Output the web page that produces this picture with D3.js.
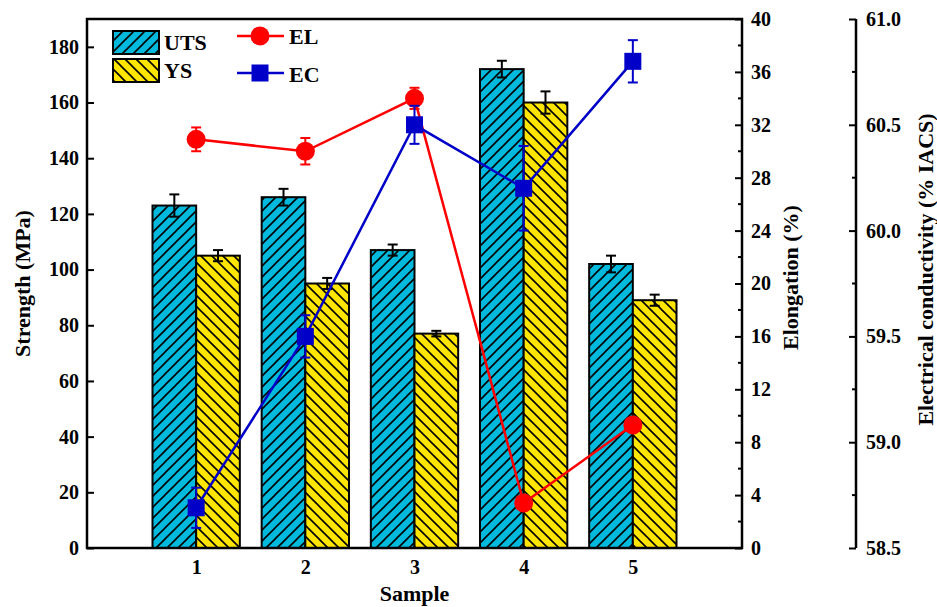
<!DOCTYPE html>
<html>
<head>
<meta charset="utf-8">
<script src="https://cdn.jsdelivr.net/npm/d3@7/dist/d3.min.js"></script>
<style>
  body { margin: 0; background: #fff; }
  svg text { font-family: 'Liberation Serif', 'Times New Roman', Times, Tinos, 'DejaVu Serif', serif !important; font-weight: bold; }
</style>
</head>
<body>
<div id="chart"></div>
<script>
// data
const samples = [1, 2, 3, 4, 5];
const uts = [123, 126, 107, 172, 102];
const utsErr = [4, 3, 2, 3, 3];
const ys = [105, 95, 77, 160, 89];
const ysErr = [2, 2, 1, 4, 2];
const el = [30.9, 30.0, 34.0, 3.4, 9.3];
const elErr = [0.9, 1.0, 0.8, 0, 0];
const ec = [58.69, 59.5, 60.5, 60.2, 60.8];
const ecErr = [0.095, 0.1, 0.09, 0.2, 0.1];

const strengthTicks = [0, 20, 40, 60, 80, 100, 120, 140, 160, 180];
const elTicks = [0, 4, 8, 12, 16, 20, 24, 28, 32, 36, 40];
const ecTicks = [58.5, 59.0, 59.5, 60.0, 60.5, 61.0];

const W = 937, H = 607;
const margin = { top: 19, right: 195, bottom: 59, left: 87 };
const pLeft = margin.left, pRight = W - margin.right, pTop = margin.top, pBottom = H - margin.bottom;
const ecAxisX = 856;
const serif = "'Liberation Serif', 'Times New Roman', Times, Tinos, 'DejaVu Serif', serif";

const svg = d3.select('#chart').append('svg')
  .attr('width', W)
  .attr('height', H)
  .attr('font-family', serif);

const x = d3.scaleLinear().domain([0, 6]).range([pLeft, pRight]);
const yS = d3.scaleLinear().domain([0, 190]).range([pBottom, pTop]);
const yEL = d3.scaleLinear().domain([0, 40]).range([pBottom, pTop]);
const yEC = d3.scaleLinear().domain([58.5, 61.0]).range([pBottom, pTop]);

const barW = 0.4;
const utsColor = '#00b9dd', ysColor = '#ffe500';
const elColor = '#ff0000', ecColor = '#0000c8';

// hatch patterns
const defs = svg.append('defs');
const hatch = (id, fill, d) => {
  const p = defs.append('pattern')
    .attr('id', id)
    .attr('patternUnits', 'userSpaceOnUse')
    .attr('width', 11).attr('height', 11);
  p.append('rect').attr('width', 11).attr('height', 11).attr('fill', fill);
  p.append('path').attr('d', d).attr('stroke', '#000').attr('stroke-width', 1.6);
};
hatch('hatchUTS', utsColor, 'M0,11 L11,0 M-3,3 L3,-3 M8,14 L14,8');
hatch('hatchYS', ysColor, 'M0,0 L11,11 M-3,8 L3,14 M8,-3 L14,3');

// bars
const barData = samples.map((s, i) => ({ s, uts: uts[i], utsErr: utsErr[i], ys: ys[i], ysErr: ysErr[i] }));

svg.append('g').selectAll('rect.uts')
  .data(barData)
  .enter().append('rect')
  .attr('x', d => x(d.s - barW))
  .attr('y', d => yS(d.uts))
  .attr('width', d => x(d.s) - x(d.s - barW))
  .attr('height', d => pBottom - yS(d.uts))
  .attr('fill', 'url(#hatchUTS)')
  .attr('stroke', '#000')
  .attr('stroke-width', 2);

svg.append('g').selectAll('rect.ys')
  .data(barData)
  .enter().append('rect')
  .attr('x', d => x(d.s))
  .attr('y', d => yS(d.ys))
  .attr('width', d => x(d.s + barW) - x(d.s))
  .attr('height', d => pBottom - yS(d.ys))
  .attr('fill', 'url(#hatchYS)')
  .attr('stroke', '#000')
  .attr('stroke-width', 2);

// error bars
function errBars(g, pts, color, cap, sw) {
  pts.forEach(p => {
    if (p.lo === p.hi) return;
    g.append('line').attr('x1', p.x).attr('x2', p.x).attr('y1', p.lo).attr('y2', p.hi)
      .attr('stroke', color).attr('stroke-width', sw);
    [p.lo, p.hi].forEach(yy => g.append('line')
      .attr('x1', p.x - cap).attr('x2', p.x + cap).attr('y1', yy).attr('y2', yy)
      .attr('stroke', color).attr('stroke-width', sw));
  });
}
const gErr = svg.append('g');
errBars(gErr, barData.map(d => ({ x: x(d.s - barW / 2), lo: yS(d.uts - d.utsErr), hi: yS(d.uts + d.utsErr) })), '#000', 5, 2);
errBars(gErr, barData.map(d => ({ x: x(d.s + barW / 2), lo: yS(d.ys - d.ysErr), hi: yS(d.ys + d.ysErr) })), '#000', 5, 2);

// EL line
const gEL = svg.append('g');
const elPts = samples.map((s, i) => [x(s), yEL(el[i])]);
gEL.append('path').attr('d', d3.line()(elPts))
  .attr('fill', 'none').attr('stroke', elColor).attr('stroke-width', 2.5);
errBars(gEL, samples.map((s, i) => ({ x: x(s), lo: yEL(el[i] - elErr[i]), hi: yEL(el[i] + elErr[i]) })), elColor, 5, 2);
gEL.selectAll('circle').data(elPts).enter().append('circle')
  .attr('cx', d => d[0]).attr('cy', d => d[1]).attr('r', 9.5).attr('fill', elColor);

// EC line
const gEC = svg.append('g');
const ecPts = samples.map((s, i) => [x(s), yEC(ec[i])]);
gEC.append('path').attr('d', d3.line()(ecPts))
  .attr('fill', 'none').attr('stroke', ecColor).attr('stroke-width', 2.5);
errBars(gEC, samples.map((s, i) => ({ x: x(s), lo: yEC(ec[i] - ecErr[i]), hi: yEC(ec[i] + ecErr[i]) })), ecColor, 5, 2);
gEC.selectAll('rect').data(ecPts).enter().append('rect')
  .attr('x', d => d[0] - 8.5).attr('y', d => d[1] - 8.5).attr('width', 17).attr('height', 17).attr('fill', ecColor);

// frame
svg.append('rect')
  .attr('x', pLeft).attr('y', pTop).attr('width', pRight - pLeft).attr('height', pBottom - pTop)
  .attr('fill', 'none').attr('stroke', '#000').attr('stroke-width', 2.5);

// axes
function styleAxis(g, size) {
  g.attr('font-family', serif);
  g.select('.domain').remove();
  g.selectAll('.tick line').attr('stroke', '#000').attr('stroke-width', 2);
  g.selectAll('.tick text').attr('font-size', size).attr('font-weight', 'bold').attr('fill', '#000');
}

// left strength axis, ticks pointing inward
const gL = svg.append('g').attr('transform', `translate(${pLeft},0)`)
  .call(d3.axisRight(yS).tickValues(strengthTicks).tickSize(7));
styleAxis(gL, 20);
gL.selectAll('.tick text').attr('text-anchor', 'end').attr('x', -8);

// bottom axis labels
const gB = svg.append('g').attr('transform', `translate(0,${pBottom})`)
  .call(d3.axisBottom(x).tickValues(samples).tickSize(0).tickPadding(12).tickFormat(d3.format('d')));
styleAxis(gB, 20);

// right elongation axis
const gR = svg.append('g').attr('transform', `translate(${pRight},0)`)
  .call(d3.axisLeft(yEL).tickValues(elTicks).tickSize(7).tickFormat(d3.format('d')));
styleAxis(gR, 20);
gR.selectAll('.tick text').attr('text-anchor', 'start').attr('x', 9);
gR.selectAll('line.minor').data(d3.range(2, 40, 4)).enter().append('line')
  .attr('class', 'minor')
  .attr('x1', 0).attr('x2', -4).attr('y1', d => yEL(d)).attr('y2', d => yEL(d))
  .attr('stroke', '#000').attr('stroke-width', 2);

// offset EC axis
const gE = svg.append('g').attr('transform', `translate(${ecAxisX},0)`)
  .call(d3.axisLeft(yEC).tickValues(ecTicks).tickSize(7).tickFormat(d3.format('.1f')));
styleAxis(gE, 20);
gE.selectAll('.tick text').attr('text-anchor', 'start').attr('x', 10);
gE.append('line').attr('x1', 0).attr('x2', 0).attr('y1', pTop).attr('y2', pBottom)
  .attr('stroke', '#000').attr('stroke-width', 2.5);
gE.selectAll('line.minor').data([58.75, 59.25, 59.75, 60.25, 60.75]).enter().append('line')
  .attr('class', 'minor')
  .attr('x1', 0).attr('x2', -4).attr('y1', d => yEC(d)).attr('y2', d => yEC(d))
  .attr('stroke', '#000').attr('stroke-width', 2);

// axis titles
const midY = (pTop + pBottom) / 2;
svg.append('text').attr('transform', `translate(30,${midY}) rotate(-90)`)
  .attr('text-anchor', 'middle').attr('font-size', 22).text('Strength (MPa)');
svg.append('text').attr('x', (pLeft + pRight) / 2).attr('y', 601)
  .attr('text-anchor', 'middle').attr('font-size', 22).text('Sample');
svg.append('text').attr('transform', `translate(798,${midY - 6}) rotate(-90)`)
  .attr('text-anchor', 'middle').attr('font-size', 22).text('Elongation (%)');
svg.append('text').attr('transform', `translate(933,${midY - 14}) rotate(-90)`)
  .attr('text-anchor', 'middle').attr('font-size', 22).text('Electrical conductivity (% IACS)');

// legend
const lg = svg.append('g');
lg.append('rect').attr('x', 113).attr('y', 31).attr('width', 46).attr('height', 23)
  .attr('fill', 'url(#hatchUTS)').attr('stroke', '#000').attr('stroke-width', 2);
lg.append('rect').attr('x', 113).attr('y', 59).attr('width', 46).attr('height', 23)
  .attr('fill', 'url(#hatchYS)').attr('stroke', '#000').attr('stroke-width', 2);
lg.append('text').attr('x', 164).attr('y', 50).attr('font-size', 22).text('UTS');
lg.append('text').attr('x', 164).attr('y', 78).attr('font-size', 22).text('YS');
lg.append('line').attr('x1', 237).attr('x2', 284).attr('y1', 36).attr('y2', 36)
  .attr('stroke', elColor).attr('stroke-width', 2.5);
lg.append('circle').attr('cx', 260).attr('cy', 36).attr('r', 9.5).attr('fill', elColor);
lg.append('line').attr('x1', 237).attr('x2', 284).attr('y1', 73).attr('y2', 73)
  .attr('stroke', ecColor).attr('stroke-width', 2.5);
lg.append('rect').attr('x', 251.5).attr('y', 64.5).attr('width', 17).attr('height', 17).attr('fill', ecColor);
lg.append('text').attr('x', 289).attr('y', 44).attr('font-size', 22).text('EL');
lg.append('text').attr('x', 289).attr('y', 82).attr('font-size', 22).text('EC');
</script>
</body>
</html>
